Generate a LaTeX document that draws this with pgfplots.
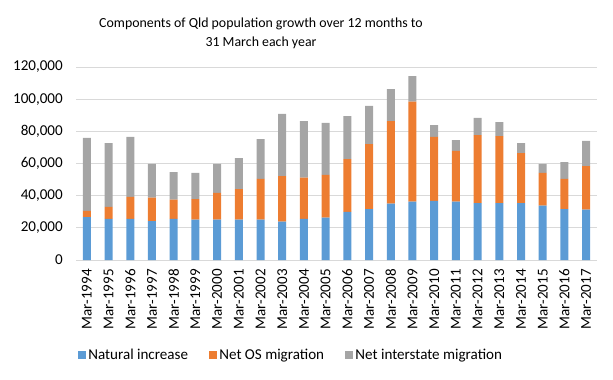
\documentclass[border=0pt]{standalone}
\usepackage{pgfplots}
\pgfplotsset{compat=1.18}
\usepackage{fontspec}
\setmainfont{Carlito}
\definecolor{cblue}{HTML}{5B9BD5}
\definecolor{corange}{HTML}{ED7D31}
\definecolor{cgray}{HTML}{A5A5A5}
\definecolor{cgrid}{HTML}{D9D9D9}
\begin{document}
\fontsize{11.3pt}{13.5pt}\selectfont
\begin{tikzpicture}
\useasboundingbox (0,0) rectangle (459.75pt,284.25pt);
\node[align=center, font=\fontsize{10.4pt}{13.8pt}\selectfont] at (195.75pt,259.2pt) {Components of Qld population growth over 12 months to\\31 March each year};
\begin{axis}[
  at={(57pt,89.25pt)}, anchor=south west,
  scale only axis, width=390.75pt, height=144.75pt,
  ybar stacked, bar width=6pt,
  xmin=-0.5, xmax=23.5, ymin=0, ymax=120000,
  ytick={0,20000,40000,60000,80000,100000,120000},
  scaled y ticks=false,
  /pgf/number format/fixed, /pgf/number format/1000 sep={,}, /pgf/number format/assume math mode=true,
  yticklabel style={font=\fontsize{11.3pt}{13pt}\selectfont, xshift=-6pt},
  ymajorgrids, grid style={cgrid, line width=0.75pt},
  axis y line*=left, y axis line style={draw=none},
  major y tick style={draw=none},
  axis x line*=bottom, x axis line style={cgrid, line width=0.75pt},
  xtick={0,...,23},
  xticklabels={Mar-1994,Mar-1995,Mar-1996,Mar-1997,Mar-1998,Mar-1999,Mar-2000,Mar-2001,Mar-2002,Mar-2003,Mar-2004,Mar-2005,Mar-2006,Mar-2007,Mar-2008,Mar-2009,Mar-2010,Mar-2011,Mar-2012,Mar-2013,Mar-2014,Mar-2015,Mar-2016,Mar-2017},
  xticklabel style={rotate=90, anchor=east, font=\fontsize{11.3pt}{13pt}\selectfont, xshift=-3pt},
  major x tick style={draw=none},
  extra x ticks={-0.5,0.5,1.5,2.5,3.5,4.5,5.5,6.5,7.5,8.5,9.5,10.5,11.5,12.5,13.5,14.5,15.5,16.5,17.5,18.5,19.5,20.5,21.5,22.5,23.5},
  extra x tick labels={},
  extra x tick style={major tick length=4pt, tick align=outside, tick style={cgrid, line width=0.75pt}, grid=none},
  legend columns=3,
  legend style={at={(0.4136,-0.492)}, anchor=center, draw=none, fill=none,
    font=\fontsize{11.3pt}{13pt}\selectfont,
    /tikz/every even column/.append style={column sep=14pt}},
  legend image code/.code={\fill[#1] (0pt,-2.75pt) rectangle (5.5pt,2.75pt);},
  clip=false,
]
\addplot[fill=cblue, draw=none] coordinates {
(0,26700)(1,25500)(2,25500)(3,24200)(4,25500)(5,25100)(6,25100)(7,25100)(8,25100)(9,23800)(10,25500)(11,26300)(12,30000)(13,31700)(14,35000)(15,36300)(16,36700)(17,36300)(18,35400)(19,35400)(20,35400)(21,33800)(22,31700)(23,31300)};
\addplot[fill=corange, draw=none] coordinates {
(0,3800)(1,7500)(2,13700)(3,14600)(4,12000)(5,12800)(6,16600)(7,19000)(8,25300)(9,28400)(10,25700)(11,26600)(12,32800)(13,40400)(14,51400)(15,62100)(16,39800)(17,31500)(18,42300)(19,41700)(20,31100)(21,20300)(22,18700)(23,27100)};
\addplot[fill=cgray, draw=none] coordinates {
(0,45400)(1,39700)(2,37300)(3,20900)(4,17200)(5,16200)(6,18000)(7,19300)(8,24800)(9,38600)(10,35200)(11,32300)(12,26700)(13,23700)(14,19900)(15,16000)(16,7400)(17,6800)(18,10600)(19,8700)(20,6200)(21,5600)(22,10500)(23,15600)};
\legend{Natural increase, Net OS migration, Net interstate migration}
\end{axis}
\end{tikzpicture}
\end{document}
